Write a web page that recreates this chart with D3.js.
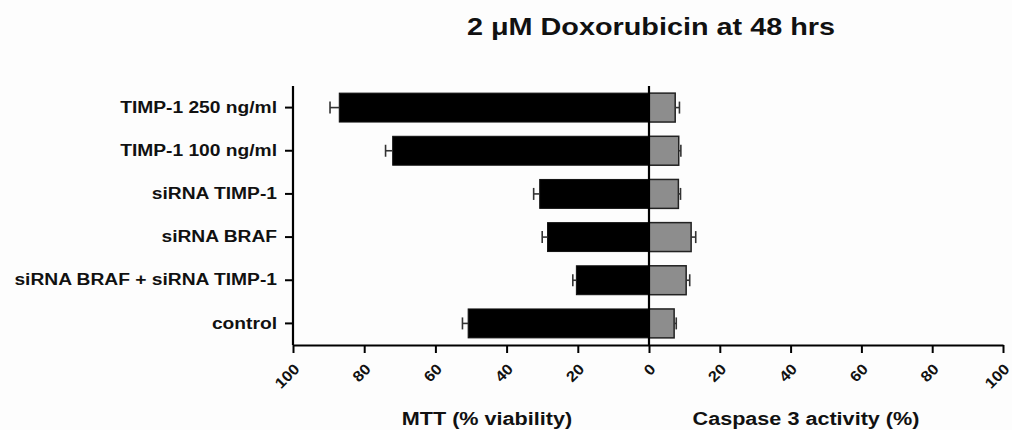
<!DOCTYPE html>
<html>
<head>
<meta charset="utf-8">
<script src="https://cdn.jsdelivr.net/npm/d3@7"></script>
<style>
  body { margin: 0; background: #fdfdfd; }
  text { font-family: "Liberation Sans", Arial, sans-serif; font-weight: bold; fill: #111; }
</style>
</head>
<body>
<div id="container"></div>
<script>
/* CONSTANTS AND GLOBALS */
const width = 1012,
  height = 430;

/* DATA */
const categories = ["TIMP-1 250 ng/ml", "TIMP-1 100 ng/ml", "siRNA TIMP-1",
  "siRNA BRAF", "siRNA BRAF + siRNA TIMP-1", "control"];
const mttMean = [87, 72, 30.7, 28.5, 20.4, 50.8];
const mttErr = [2.6, 2.0, 1.7, 1.5, 1.0, 1.6];
const caspMean = [7.4, 8.4, 8.3, 11.9, 10.5, 7.1];
const caspErr = [1.2, 0.6, 0.6, 1.3, 1.0, 0.6];
const tickValues = [0, 20, 40, 60, 80, 100];

const data = categories.map((c, i) => ({
  cat: c, mtt: mttMean[i], mttErr: mttErr[i], casp: caspMean[i], caspErr: caspErr[i]
}));

/* SCALES */
const zeroX = 649, leftX = 293, rightX = 1003, plotTop = 86, plotBottom = 345;

const xLeft = d3.scaleLinear().domain([0, 100]).range([zeroX, leftX]);
const xRight = d3.scaleLinear().domain([0, 100]).range([zeroX, rightX]);
const yScale = d3.scaleBand().domain(categories).range([plotTop, plotBottom])
  .paddingInner(0.33).paddingOuter(0.165);

/* SVG */
const svg = d3.select("#container")
  .append("svg")
  .attr("width", width)
  .attr("height", height)
  .style("background", "#fdfdfd");

// MTT bars (left, black)
svg.selectAll("rect.mtt")
  .data(data)
  .join("rect")
  .attr("class", "mtt")
  .attr("x", d => xLeft(d.mtt))
  .attr("y", d => yScale(d.cat))
  .attr("width", d => zeroX - xLeft(d.mtt))
  .attr("height", yScale.bandwidth())
  .attr("fill", "#000")
  .attr("stroke", "#111")
  .attr("stroke-width", 1);

// caspase bars (right, grey)
svg.selectAll("rect.casp")
  .data(data)
  .join("rect")
  .attr("class", "casp")
  .attr("x", zeroX)
  .attr("y", d => yScale(d.cat))
  .attr("width", d => xRight(d.casp) - zeroX)
  .attr("height", yScale.bandwidth())
  .attr("fill", "#8d8d8d")
  .attr("stroke", "#222")
  .attr("stroke-width", 1.5);

// error bars
const capH = 6;
const errG = svg.append("g").attr("stroke", "#333").attr("stroke-width", 1.6);
data.forEach(d => {
  const yc = yScale(d.cat) + yScale.bandwidth() / 2;
  errG.append("line")
    .attr("x1", xLeft(d.mtt)).attr("x2", xLeft(d.mtt + d.mttErr))
    .attr("y1", yc).attr("y2", yc);
  errG.append("line")
    .attr("x1", xLeft(d.mtt + d.mttErr)).attr("x2", xLeft(d.mtt + d.mttErr))
    .attr("y1", yc - capH).attr("y2", yc + capH);
  errG.append("line")
    .attr("x1", xRight(d.casp)).attr("x2", xRight(d.casp + d.caspErr))
    .attr("y1", yc).attr("y2", yc);
  errG.append("line")
    .attr("x1", xRight(d.casp + d.caspErr)).attr("x2", xRight(d.casp + d.caspErr))
    .attr("y1", yc - capH).attr("y2", yc + capH);
});

// zero line
svg.append("line")
  .attr("x1", zeroX).attr("x2", zeroX)
  .attr("y1", plotTop).attr("y2", plotBottom)
  .attr("stroke", "#000").attr("stroke-width", 2.2);

// y axis
const yAxis = d3.axisLeft(yScale).tickSize(8).tickPadding(8).tickSizeOuter(0);
const gy = svg.append("g")
  .attr("transform", `translate(${leftX},0)`)
  .call(yAxis);
gy.select(".domain").attr("stroke-width", 2.2).attr("d", `M0,${plotTop}V${plotBottom}`);
gy.selectAll(".tick line").attr("stroke-width", 2);
gy.selectAll(".tick text").attr("class", "wide").style("font-size", "16px");

// x axes
function styleX(g) {
  g.select(".domain").attr("stroke-width", 2.2);
  g.selectAll(".tick line").attr("stroke-width", 2);
  g.selectAll(".tick text")
    .attr("class", "tickLabel")
    .style("font-size", "15px")
    .attr("text-anchor", "end")
    .attr("y", 0).attr("dy", 0)
    .attr("transform", "translate(7,25) rotate(-45)");
}
svg.append("g")
  .attr("transform", `translate(0,${plotBottom})`)
  .call(d3.axisBottom(xLeft).tickValues(tickValues.slice(1)).tickSize(8).tickSizeOuter(0))
  .call(styleX);
svg.append("g")
  .attr("transform", `translate(0,${plotBottom})`)
  .call(d3.axisBottom(xRight).tickValues(tickValues).tickSize(8).tickSizeOuter(0))
  .call(styleX);

// titles
svg.append("text")
  .attr("class", "wide")
  .attr("x", 651).attr("y", 35)
  .attr("text-anchor", "middle")
  .style("font-size", "24px")
  .text("2 μM Doxorubicin at 48 hrs");

svg.append("text")
  .attr("class", "wide")
  .attr("x", 487).attr("y", 425)
  .attr("text-anchor", "middle")
  .style("font-size", "18px")
  .text("MTT (% viability)");

svg.append("text")
  .attr("class", "wide")
  .attr("x", 806).attr("y", 425)
  .attr("text-anchor", "middle")
  .style("font-size", "18px")
  .text("Caspase 3 activity (%)");

// widen text a little to match the source's letterforms
function widen(sel, k) {
  sel.each(function () {
    const len = this.getComputedTextLength();
    d3.select(this)
      .attr("textLength", len * k)
      .attr("lengthAdjust", "spacingAndGlyphs");
  });
}
widen(svg.selectAll("text.wide"), 1.2);
widen(svg.selectAll("text.tickLabel"), 1.1);
</script>
</body>
</html>
